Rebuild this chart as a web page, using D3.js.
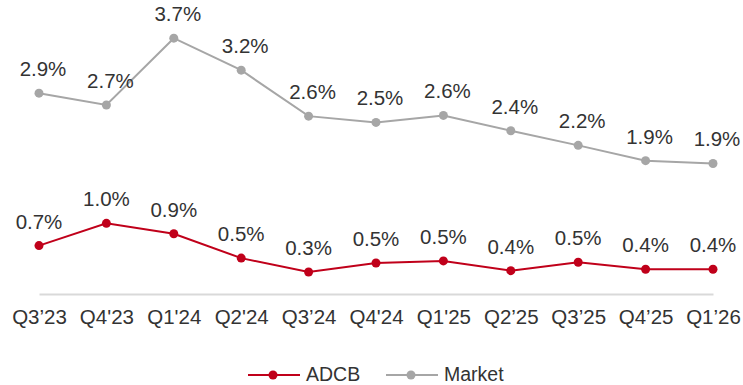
<!DOCTYPE html>
<html>
<head>
<meta charset="utf-8">
<script src="https://cdn.jsdelivr.net/npm/d3@7"></script>
<style>
  html, body { margin: 0; padding: 0; background: #ffffff; }
  svg { display: block; }
  text { font-family: "Liberation Sans", Arial, Helvetica, sans-serif; fill: #333333; }
</style>
</head>
<body>
<svg id="chart" width="743" height="385"></svg>
<script>
const categories = ["Q3’23", "Q4'23", "Q1'24", "Q2'24", "Q3’24", "Q4'24", "Q1'25", "Q2’25", "Q3’25", "Q4’25", "Q1’26"];
const adcbValues = [0.71, 1.03, 0.88, 0.53, 0.33, 0.46, 0.49, 0.35, 0.47, 0.37, 0.37];
const marketValues = [2.90, 2.73, 3.69, 3.23, 2.57, 2.48, 2.58, 2.36, 2.15, 1.93, 1.89];
const adcbLabels = ["0.7%", "1.0%", "0.9%", "0.5%", "0.3%", "0.5%", "0.5%", "0.4%", "0.5%", "0.4%", "0.4%"];
const marketLabels = ["2.9%", "2.7%", "3.7%", "3.2%", "2.6%", "2.5%", "2.6%", "2.4%", "2.2%", "1.9%", "1.9%"];
const seriesNames = ["ADCB", "Market"];

const colors = { ADCB: "#C0001A", Market: "#A6A6A6" };

const svg = d3.select("#chart");
const x = d3.scalePoint().domain(categories).range([39, 713]);
const y = d3.scaleLinear().domain([0, 4]).range([295, 16.6]);

// x axis
const axisY = 294;
const xAxis = svg.append("g")
  .attr("transform", `translate(0,${axisY})`)
  .call(d3.axisBottom(x).tickSize(0).tickPadding(0));
xAxis.select(".domain").attr("stroke", "#D9D9D9").attr("stroke-width", 2);
xAxis.selectAll("text")
  .attr("y", 30)
  .attr("dy", 0)
  .style("font-size", "20.5px")
  .style("font-family", "\"Liberation Sans\", Arial, sans-serif")
  .attr("fill", "#333333");

const series = [
  { name: "Market", values: marketValues, labels: marketLabels, dx: 4 },
  { name: "ADCB", values: adcbValues, labels: adcbLabels, dx: 0 }
];

const line = d3.line()
  .x((d, i) => x(categories[i]))
  .y(d => y(d));

series.forEach(s => {
  const g = svg.append("g");
  g.append("path")
    .datum(s.values)
    .attr("d", line)
    .attr("fill", "none")
    .attr("stroke", colors[s.name])
    .attr("stroke-width", 2);
  g.selectAll("circle")
    .data(s.values)
    .join("circle")
    .attr("cx", (d, i) => x(categories[i]))
    .attr("cy", d => y(d))
    .attr("r", 4.5)
    .attr("fill", colors[s.name]);
  g.selectAll("text.lbl")
    .data(s.values)
    .join("text")
    .attr("class", "lbl")
    .attr("x", (d, i) => x(categories[i]) + s.dx)
    .attr("y", d => y(d) - 17)
    .attr("text-anchor", "middle")
    .style("font-size", "20.5px")
    .text((d, i) => s.labels[i]);
});

// legend
const legendY = 375;
const legendItems = [
  { name: seriesNames[0], x0: 248 },
  { name: seriesNames[1], x0: 386 }
];
legendItems.forEach(it => {
  const g = svg.append("g");
  g.append("line")
    .attr("x1", it.x0).attr("x2", it.x0 + 52)
    .attr("y1", legendY).attr("y2", legendY)
    .attr("stroke", colors[it.name]).attr("stroke-width", 2);
  g.append("circle")
    .attr("cx", it.x0 + 25).attr("cy", legendY).attr("r", 4.5)
    .attr("fill", colors[it.name]);
  g.append("text")
    .attr("x", it.x0 + 58).attr("y", legendY + 6)
    .style("font-size", "19.5px")
    .text(it.name);
});
</script>
</body>
</html>
